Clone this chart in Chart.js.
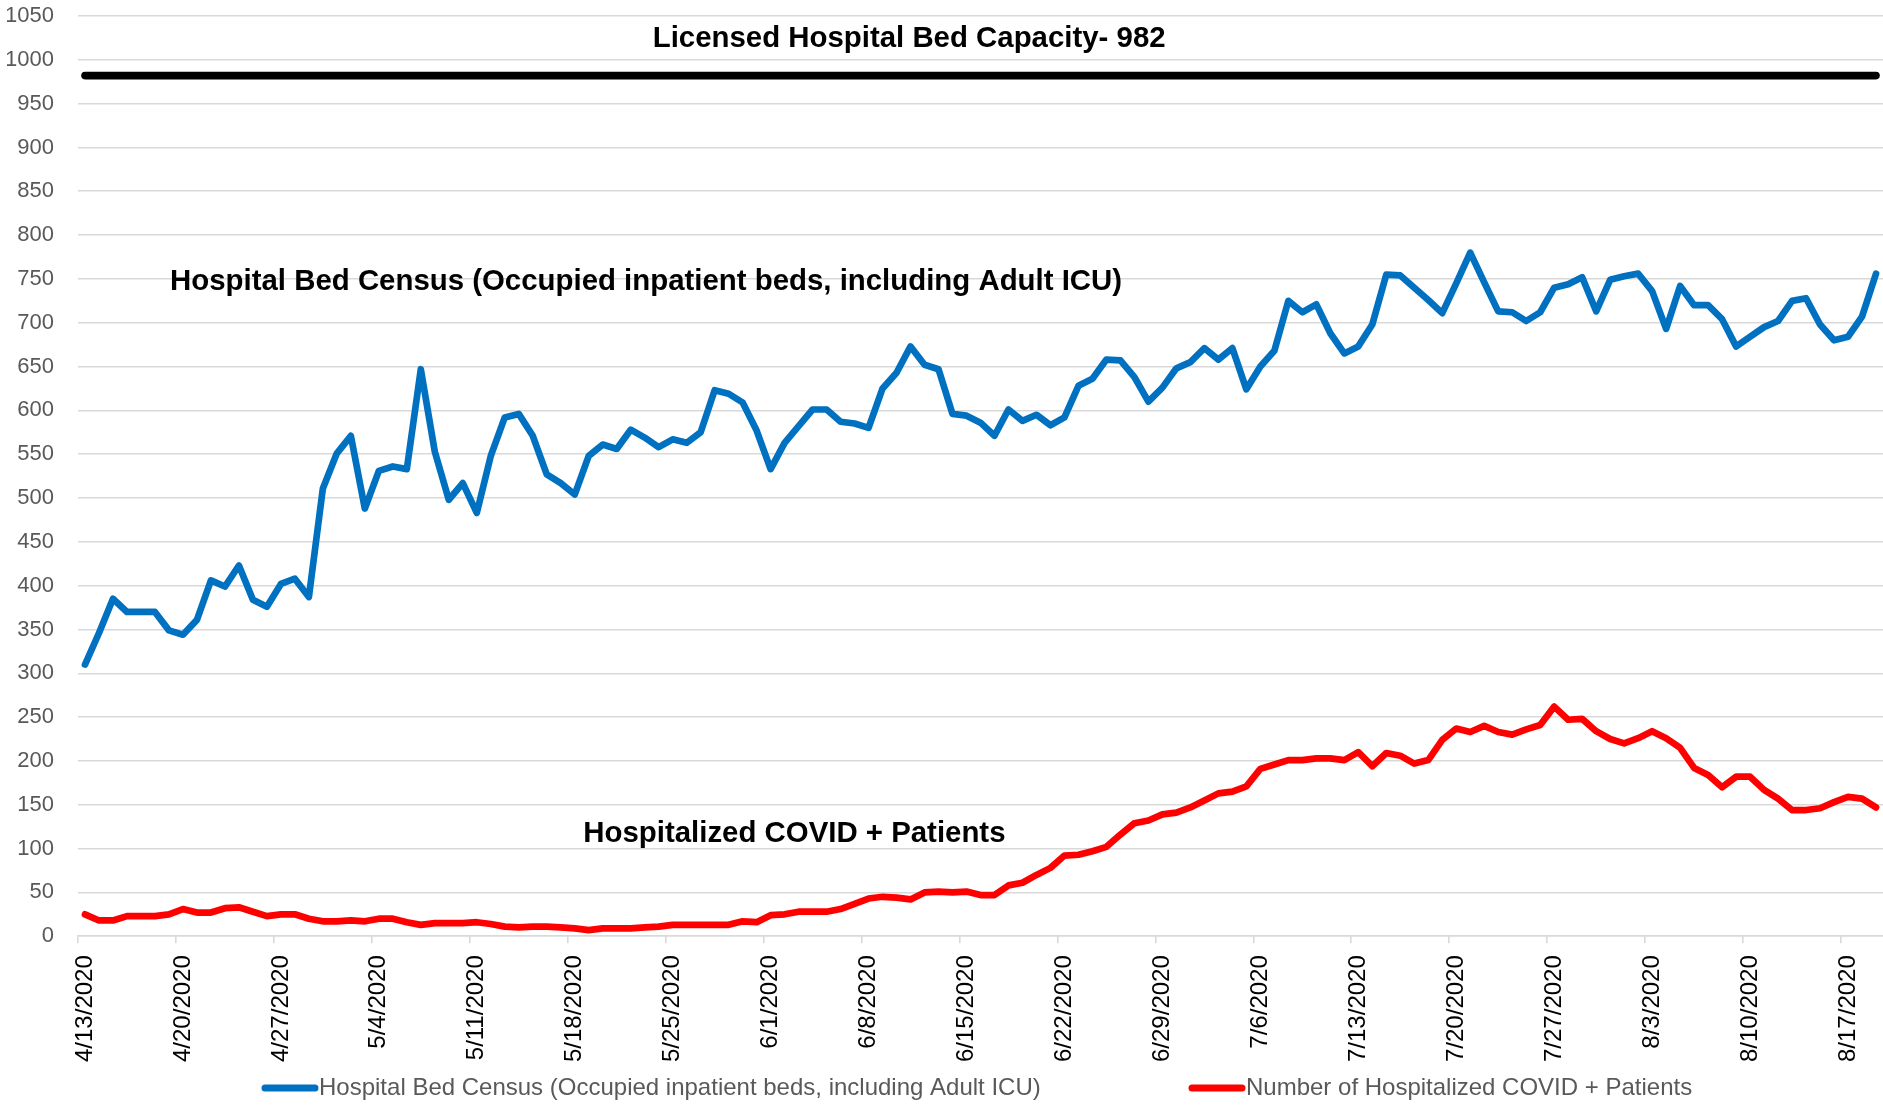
<!DOCTYPE html>
<html>
<head>
<meta charset="utf-8">
<script src="https://cdn.jsdelivr.net/npm/chart.js@4.4.0/dist/chart.umd.min.js"></script>
<style>
  html, body { margin: 0; padding: 0; background: #fff; }
</style>
</head>
<body>
<canvas id="censusChart" width="1883" height="1107"></canvas>
<script>
const FONT = '"Liberation Sans", Arial, sans-serif';

// one category per day, 4/13/2020 .. 8/19/2020
const dates = [];
for (let i = 0; i < 129; i++) {
    const d = new Date(2020, 3, 13 + i);
    dates.push((d.getMonth() + 1) + '/' + d.getDate() + '/' + d.getFullYear());
}

// only these get a label and a tick mark
const tickLabels = ['4/13/2020', '4/20/2020', '4/27/2020', '5/4/2020', '5/11/2020', '5/18/2020',
    '5/25/2020', '6/1/2020', '6/8/2020', '6/15/2020', '6/22/2020', '6/29/2020', '7/6/2020',
    '7/13/2020', '7/20/2020', '7/27/2020', '8/3/2020', '8/10/2020', '8/17/2020'];

const bedCensus = [
    310, 346, 385, 370, 370, 370, 349, 344, 361, 406, 399, 423, 384, 376,
    402, 408, 387, 511, 551, 571, 488, 531, 536, 533, 647, 553, 498, 517,
    483, 548, 592, 596, 571, 527, 517, 504, 548, 561, 556, 578, 569, 558,
    567, 563, 575, 623, 619, 609, 577, 533, 563, 582, 601, 601, 587, 585,
    580, 625, 643, 673, 652, 647, 596, 594, 586, 571, 601, 588, 595, 583,
    592, 628, 636, 658, 657, 638, 610, 626, 648, 655, 671, 658, 671, 624,
    650, 668, 725, 712, 721, 688, 665, 673, 698, 755, 754, 740, 726, 711,
    745, 780, 746, 713, 712, 702, 712, 740, 744, 752, 713, 749, 753, 756,
    736, 693, 742, 720, 720, 704, 673, 684, 695, 702, 725, 728, 698, 680,
    684, 707, 756
];

const covidPatients = [
    25, 18, 18, 23, 23, 23, 25, 31, 27, 27, 32, 33, 28, 23,
    25, 25, 20, 17, 17, 18, 17, 20, 20, 16, 13, 15, 15, 15,
    16, 14, 11, 10, 11, 11, 10, 9, 7, 9, 9, 9, 10, 11,
    13, 13, 13, 13, 13, 17, 16, 24, 25, 28, 28, 28, 31, 37,
    43, 45, 44, 42, 50, 51, 50, 51, 47, 47, 58, 61, 70, 78,
    92, 93, 97, 102, 116, 129, 132, 139, 141, 147, 155, 163, 165, 171,
    191, 196, 201, 201, 203, 203, 201, 210, 194, 209, 206, 197, 201, 224,
    237, 233, 240, 233, 230, 236, 241, 262, 247, 248, 234, 225, 220, 226,
    234, 226, 215, 192, 184, 170, 182, 182, 167, 157, 144, 144, 146, 153,
    159, 157, 147
];

const bedCapacity = 982;

// text written on the plot: category position (fractional) + y value of the text centre
const notes = [
    { text: 'Licensed Hospital Bed Capacity- 982', at: 58.9, value: 1024 },
    { text: 'Hospital Bed Census (Occupied inpatient beds, including Adult ICU)', at: 40.1, value: 747 },
    { text: 'Hospitalized COVID + Patients', at: 50.7, value: 117 }
];

const textPlugin = {
    id: 'textPlugin',
    afterDraw(chart) {
        const ctx = chart.ctx;
        const x = chart.scales.x;
        const y = chart.scales.y;
        ctx.save();

        // labels on the plot
        ctx.fillStyle = '#000';
        ctx.font = 'bold 29.4px ' + FONT;
        ctx.textAlign = 'center';
        ctx.textBaseline = 'middle';
        notes.forEach(n => {
            ctx.fillText(n.text, x.getPixelForValue(n.at), y.getPixelForValue(n.value));
        });

        // legend at the bottom
        const legendY = 1088;
        let lx = 262;
        ctx.font = '24px ' + FONT;
        ctx.textAlign = 'left';
        ctx.lineCap = 'round';
        chart.data.datasets.forEach(ds => {
            if (ds.hideInLegend) return;
            ctx.strokeStyle = ds.borderColor;
            ctx.lineWidth = 7;
            ctx.beginPath();
            ctx.moveTo(lx + 3, legendY);
            ctx.lineTo(lx + 53, legendY);
            ctx.stroke();
            ctx.fillStyle = '#595959';
            ctx.fillText(ds.label, lx + 57, legendY);
            lx = 1189;
        });
        ctx.restore();
    }
};

const ctx = document.getElementById('censusChart').getContext('2d');
new Chart(ctx, {
    type: 'line',
    data: {
        labels: dates,
        datasets: [
            {
                label: 'Hospital Bed Census (Occupied inpatient beds, including Adult ICU)',
                data: bedCensus,
                borderColor: '#0070C0',
                backgroundColor: '#0070C0',
                borderWidth: 6.7
            },
            {
                label: 'Number of Hospitalized COVID + Patients',
                data: covidPatients,
                borderColor: '#FF0000',
                backgroundColor: '#FF0000',
                borderWidth: 6.7
            },
            {
                label: 'Licensed Hospital Bed Capacity',
                data: [{ x: dates[0], y: bedCapacity }, { x: dates[dates.length - 1], y: bedCapacity }],
                borderColor: '#000',
                backgroundColor: '#000',
                borderWidth: 7.6,
                hideInLegend: true
            }
        ]
    },
    options: {
        responsive: false,
        animation: false,
        devicePixelRatio: 1,
        layout: { padding: { left: 7, top: 16, right: 0, bottom: 33 } },
        elements: {
            point: { radius: 0, hoverRadius: 0 },
            line: { tension: 0, borderJoinStyle: 'round', borderCapStyle: 'round' }
        },
        plugins: {
            legend: { display: false },
            tooltip: { enabled: false }
        },
        scales: {
            x: {
                offset: true,
                border: { display: true, color: '#d9d9d9', width: 1.6 },
                grid: {
                    offset: true,
                    drawOnChartArea: false,
                    drawTicks: true,
                    tickLength: 7,
                    lineWidth: 1.6,
                    // tick mark on the left edge of each labelled day
                    color: c => (c.tick && c.tick.label !== '') ? '#d9d9d9' : 'rgba(0,0,0,0)'
                },
                ticks: {
                    autoSkip: false,
                    minRotation: 90,
                    maxRotation: 90,
                    padding: 12,
                    color: '#000',
                    font: { family: FONT, size: 24 },
                    callback: function (value) {
                        const lab = this.getLabelForValue(value);
                        return tickLabels.includes(lab) ? lab : '';
                    }
                },
                afterFit: s => { s.paddingRight = 0; }
            },
            y: {
                min: 0,
                max: 1050,
                border: { display: false },
                grid: { color: '#d9d9d9', lineWidth: 1.6, drawTicks: false },
                ticks: {
                    stepSize: 50,
                    padding: 24,
                    color: '#595959',
                    font: { family: FONT, size: 22 },
                    callback: v => String(v)
                },
                afterFit: s => {
                    s.width = 71;
                    s.paddingTop = 0;
                    s.paddingBottom = 0;
                }
            }
        }
    },
    plugins: [textPlugin]
});
</script>
</body>
</html>
